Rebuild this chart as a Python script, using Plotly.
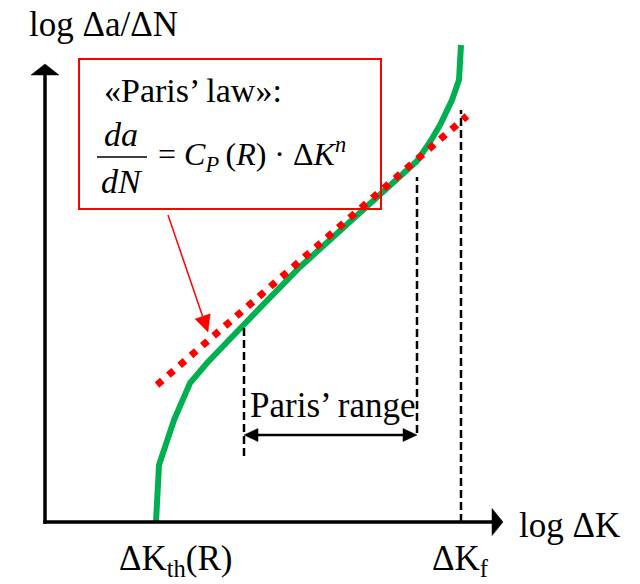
import plotly.graph_objects as go

# Fatigue crack growth curve, log-log axes (arbitrary units)
log_dk = [2.22, 2.28, 2.58, 2.90, 3.24, 3.54, 3.94, 4.22, 5.10, 6.30, 7.24, 7.44,
          7.70, 7.90, 8.14, 8.28, 8.32]
log_dadn = [0.00, 1.14, 2.04, 2.78, 3.18, 3.50, 3.92, 4.20, 5.10, 6.18, 7.04, 7.22,
            7.60, 7.94, 8.44, 8.84, 9.54]

# Straight Paris-law fit
paris_fit_x = [2.24, 8.44]
paris_fit_y = [2.74, 8.12]

# Characteristic stress-intensity values
dk_th = 2.22
dk_f = 8.32
paris_range = [3.98, 7.44]
# top ends of the guide lines at each boundary
guide_top = {"lo": 3.94, "hi": 6.90, "f": 8.24}
guide_bottom = {"lo": 1.32, "hi": 1.78, "f": 0.0}
range_arrow_y = 1.74

X_RANGE = [-0.9, 11.9]
Y_RANGE = [-1.24, 10.44]
X_AXIS_END = 9.16
Y_AXIS_END = 9.16

FONT = "Liberation Serif"
GREEN = "#00b050"
RED = "#ff0000"

fig = go.Figure()

fig.add_trace(go.Scatter(
    x=log_dk, y=log_dadn, mode="lines",
    line=dict(color=GREEN, width=6), hoverinfo="skip"))
# dotted Paris fit, drawn over the curve
fig.add_trace(go.Scatter(
    x=paris_fit_x, y=paris_fit_y, mode="lines",
    line=dict(color=RED, width=7, dash="7px,8px"), hoverinfo="skip"))

shapes = []


def tri(tip, back, half, vertical):
    """Filled triangular arrow head given tip, length back and half width."""
    tx, ty = tip
    if vertical:
        pts = [(tx, ty), (tx - half, ty - back), (tx + half, ty - back)]
    else:
        pts = [(tx, ty), (tx - back, ty - half), (tx - back, ty + half)]
    return pts


def path_of(pts):
    return "M " + " L ".join(f"{x},{y}" for x, y in pts) + " Z"


# axes
shapes.append(dict(type="line", x0=0, y0=-0.035, x1=0, y1=Y_AXIS_END - 0.2,
                   line=dict(color="black", width=3.5)))
shapes.append(dict(type="line", x0=-0.035, y0=0, x1=X_AXIS_END - 0.2, y1=0,
                   line=dict(color="black", width=3.5)))
shapes.append(dict(type="path", path=path_of(tri((0, Y_AXIS_END), 0.22, 0.28, True)),
                   fillcolor="black", line=dict(color="black", width=0.5)))
shapes.append(dict(type="path", path=path_of(tri((X_AXIS_END, 0), 0.22, 0.27, False)),
                   fillcolor="black", line=dict(color="black", width=0.5)))

# dashed guide lines
for key, xv in (("lo", paris_range[0]), ("hi", paris_range[1]), ("f", dk_f)):
    shapes.append(dict(type="line", x0=xv, x1=xv, y0=guide_bottom[key], y1=guide_top[key],
                       line=dict(color="black", width=2.5, dash="8px,4px")))

# Paris range double arrow
shapes.append(dict(type="line", x0=paris_range[0] + 0.2, x1=paris_range[1] - 0.2,
                   y0=range_arrow_y, y1=range_arrow_y,
                   line=dict(color="black", width=2.5)))
lo_head = [(paris_range[0], range_arrow_y),
           (paris_range[0] + 0.28, range_arrow_y + 0.13),
           (paris_range[0] + 0.28, range_arrow_y - 0.13)]
hi_head = [(paris_range[1], range_arrow_y),
           (paris_range[1] - 0.28, range_arrow_y + 0.13),
           (paris_range[1] - 0.28, range_arrow_y - 0.13)]
shapes.append(dict(type="path", path=path_of(lo_head), fillcolor="black",
                   line=dict(color="black", width=0.5)))
shapes.append(dict(type="path", path=path_of(hi_head), fillcolor="black",
                   line=dict(color="black", width=0.5)))

# boxed formula and its pointer
shapes.append(dict(type="rect", x0=0.68, x1=6.72, y0=6.26, y1=9.26, layer="above",
                   line=dict(color=RED, width=2), fillcolor="rgba(0,0,0,0)"))
start = (2.46, 6.14)
tip = (3.26, 3.80)
dx, dy = tip[0] - start[0], tip[1] - start[1]
ln = (dx ** 2 + dy ** 2) ** 0.5
ux, uy = dx / ln, dy / ln
head_len, head_half = 0.33, 0.16
bx, by = tip[0] - ux * head_len, tip[1] - uy * head_len
shapes.append(dict(type="line", x0=start[0], y0=start[1], x1=bx, y1=by,
                   line=dict(color=RED, width=1.5)))
shapes.append(dict(type="path",
                   path=path_of([tip, (bx - uy * head_half, by + ux * head_half),
                                 (bx + uy * head_half, by - ux * head_half)]),
                   fillcolor=RED, line=dict(color=RED, width=0.5)))

# fraction bar of da/dN
shapes.append(dict(type="line", x0=1.04, x1=2.04, y0=7.3, y1=7.3,
                   line=dict(color="black", width=1.5)))

fig.update_layout(shapes=shapes)


def label(text, x, y, size, xanchor="left"):
    fig.add_annotation(x=x, y=y, xref="x", yref="y", text=text, showarrow=False,
                       xanchor=xanchor, yanchor="middle",
                       font=dict(family=FONT, size=size, color="black"))


label("log Δa/ΔN", 1.17, 9.96, 35, "center")
label("«Paris’ law»:", 1.134, 8.63, 34)
label("<i>da</i>", 1.52, 7.76, 34, "center")
label("<i>dN</i>", 1.54, 6.82, 34, "center")
label("= <i>C</i><sub><i>P</i></sub>\u2009(<i>R</i>) · Δ<i>K</i><sup><i>n</i></sup>",
      2.22, 7.36, 32)
label("Paris’ range", 4.06, 2.34, 35)
label("log ΔK", 9.44, -0.06, 35)
label("ΔK<sub>th</sub>(R)", 1.44, -0.76, 35)
label("ΔK<sub>f</sub>", 7.7, -0.76, 35)

fig.update_layout(
    width=640, height=584,
    margin=dict(l=0, r=0, t=0, b=0),
    paper_bgcolor="white", plot_bgcolor="white",
    showlegend=False,
    xaxis=dict(range=X_RANGE, visible=False, fixedrange=True),
    yaxis=dict(range=Y_RANGE, visible=False, fixedrange=True),
)

fig.write_html("out.html")
